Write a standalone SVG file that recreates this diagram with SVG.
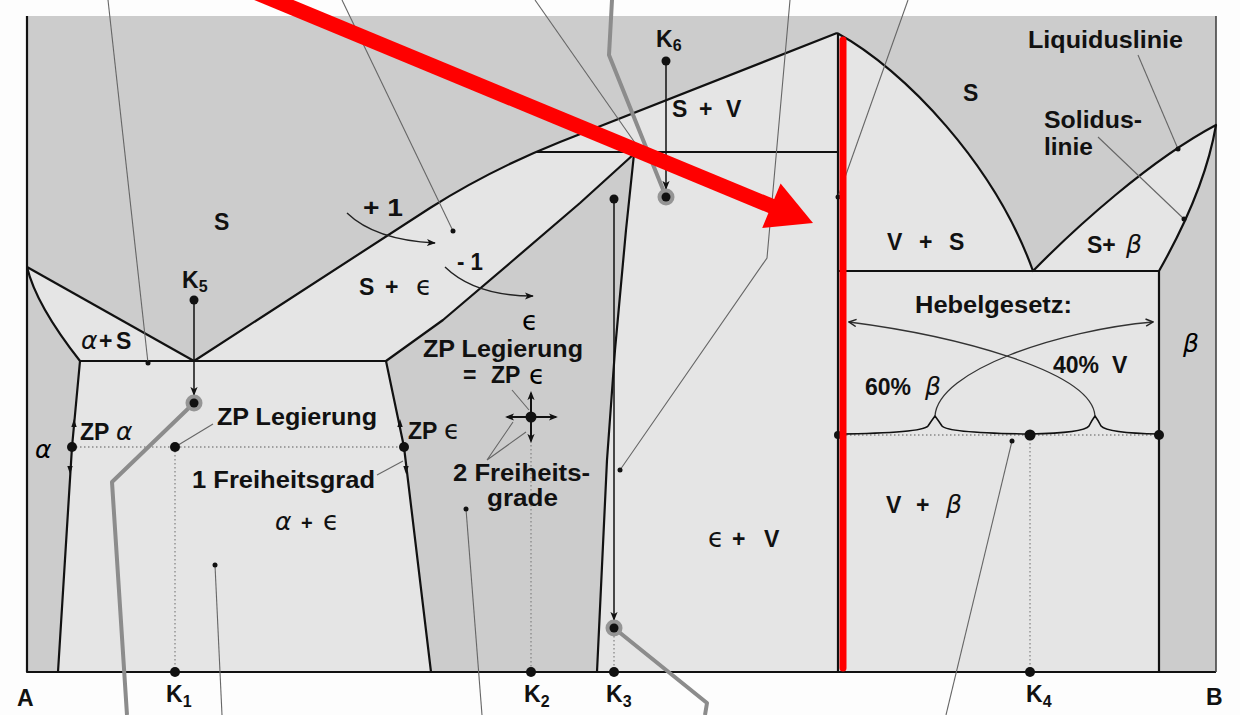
<svg xmlns="http://www.w3.org/2000/svg" width="1240" height="715" viewBox="0 0 1240 715">
<defs>
<marker id="ah" viewBox="0 0 10 10" refX="9" refY="5" markerWidth="9" markerHeight="9" markerUnits="userSpaceOnUse" orient="auto"><path d="M0,1 L10,5 L0,9 L2.5,5 Z" fill="#111"/></marker>
<marker id="ao" viewBox="0 0 10 10" refX="9" refY="5" markerWidth="9" markerHeight="9" markerUnits="userSpaceOnUse" orient="auto"><path d="M1,1 L9,5 L1,9" fill="none" stroke="#222" stroke-width="1.6"/></marker>
</defs>
<style>
.t{font-family:"Liberation Sans",Arial,sans-serif;font-weight:bold;font-size:23px;fill:#111}
.s{font-size:16px}
.g{font-family:"DejaVu Sans",sans-serif;font-style:italic;font-weight:normal;font-size:25px}
.e{font-family:"DejaVu Sans",sans-serif;font-style:normal;font-weight:normal;font-size:26px}
.b{fill:none;stroke:#111;stroke-width:2.2;stroke-linejoin:round}
.lead{fill:none;stroke:#666;stroke-width:1.1}
.dt{fill:none;stroke:#888;stroke-width:1.3;stroke-dasharray:1.5 2.5}
.thick{fill:none;stroke:#8c8c8c;stroke-width:4;stroke-linejoin:round}
.dark{fill:#cccccc}
.pt{fill:#111}
.ring{fill:#959595}
</style>
<rect x="0" y="0" width="1240" height="715" fill="#fdfdfd"/>

<g id="regions">
<rect x="27" y="16" width="1189" height="656" fill="#e5e5e5"/>
<path id="S" class="dark" d="M27,16 L1216,16 L1216,125 C1150,160 1075,228 1033,271 C995,165 905,70 837,33 L560,142 Q490,170 430,208 L194,361 L27,267 Z"/>
<path id="alpha" class="dark" d="M27,267 Q36,305 80,361 L72,447 L58,672 L27,672 Z"/>
<path id="eps" class="dark" d="M386,361 L443,320 L510,263 L580,203 L634,154 L626,230 L615,350 L607,460 L597,672 L431,672 L404,447 Z"/>
<path id="beta" class="dark" d="M1216,125 Q1205,190 1159,271 L1159,672 L1216,672 Z"/>
</g>

<g id="boundaries">
<path class="b" d="M27,16 L27,672 L1216,672" stroke-width="2.5"/>
<path d="M1216,16 L1216,672" stroke="#444" stroke-width="1.6"/>
<path class="b" d="M194,361 L430,208 Q490,170 560,142 L837,33"/>
<path class="b" d="M27,267 L194,361"/>
<path class="b" d="M27,267 Q36,305 80,361 L72,447 L58,672"/>
<path class="b" d="M80,361 L386,361"/>
<path class="b" d="M386,361 L404,447 L431,672"/>
<path class="b" d="M386,361 L443,320 L510,263 L580,203 L634,154 L626,230 L615,350 L607,460 L597,672"/>
<path class="b" d="M536,152 L838,152"/>
<path class="b" d="M838,33 L838,672"/>
<path class="b" d="M837,33 C905,70 995,165 1033,271 C1075,228 1150,160 1216,125 Q1205,190 1159,271 L1159,672"/>
<path class="b" d="M838,271 L1159,271"/>
</g>

<g id="dotted">
<path class="dt" d="M72,447 L404,447"/>
<path class="dt" d="M175,447 L175,672"/>
<path class="dt" d="M531,441 L531,672"/>
<path class="dt" d="M614,628 L614,672"/>
<path class="dt" d="M838,435 L1159,435"/>
<path class="dt" d="M1030,435 L1030,672"/>
</g>

<g id="leaders">
<path class="lead" d="M108,0 L148,363"/>
<path class="lead" d="M342,0 L453,231"/>
<path class="lead" d="M535,0 L640,150"/>
<path class="lead" d="M790,0 L767,258 L620,470"/>
<path class="lead" d="M908,0 L838,197"/>
<path class="lead" d="M1138,55 L1178,149"/>
<path class="lead" d="M1098,137 L1184,219"/>
<path class="lead" d="M377,475 L403,461"/>
<path class="lead" d="M175,447 L213,424"/>
<path class="lead" d="M512,390 L529,410"/>
<path class="lead" d="M487,460 L513,422 M487,460 L526,432"/>
<path class="lead" d="M215,565 L222,715"/>
<path class="lead" d="M466,509 L482,715"/>
<path class="lead" d="M1012,441 L946,715"/>
<circle class="pt" cx="148" cy="363" r="2.5"/>
<circle class="pt" cx="453" cy="231" r="2.5"/>
<circle class="pt" cx="620" cy="470" r="2.5"/>
<circle class="pt" cx="838" cy="197" r="2.5"/>
<circle class="pt" cx="1178" cy="149" r="2.5"/>
<circle class="pt" cx="1184" cy="219" r="2.5"/>
<circle class="pt" cx="215" cy="565" r="2.5"/>
<circle class="pt" cx="466" cy="509" r="2.5"/>
<circle class="pt" cx="1012" cy="441" r="2.5"/>
</g>

<g id="paths">
<path class="thick" d="M194,403 L112,482 L127,715"/>
<path class="thick" d="M666,197 L609,55 L612,0"/>
<path class="thick" d="M614,628 L707,703 L705,715"/>
<path d="M194,300 L194,395" stroke="#111" stroke-width="1.5" marker-end="url(#ah)"/>
<path d="M666,61 L666,189" stroke="#111" stroke-width="1.5" marker-end="url(#ah)"/>
<path d="M614,199 L614,620" stroke="#111" stroke-width="1.5" marker-end="url(#ah)"/>
<path d="M347,213 Q375,240 435,243" fill="none" stroke="#222" stroke-width="1.4" marker-end="url(#ah)"/>
<path d="M445,267 Q475,296 533,296" fill="none" stroke="#222" stroke-width="1.4" marker-end="url(#ah)"/>
<path d="M531,417 L507,417 M531,417 L556,417 M531,417 L531,393 M531,417 L531,441" stroke="#111" stroke-width="2"/>
<path d="M525,417 L506,417" stroke="#111" stroke-width="0.1" marker-end="url(#ah)"/>
<path d="M537,417 L557,417" stroke="#111" stroke-width="0.1" marker-end="url(#ah)"/>
<path d="M531,411 L531,392" stroke="#111" stroke-width="0.1" marker-end="url(#ah)"/>
<path d="M531,423 L531,442" stroke="#111" stroke-width="0.1" marker-end="url(#ah)"/>
<polygon class="pt" points="74,419 71.3,427 76.7,427"/>
<polygon class="pt" points="70,474 67.3,466 72.7,466"/>
<polygon class="pt" points="400,419 397.3,427 402.7,427"/>
<polygon class="pt" points="406,474 403.3,466 408.7,466"/>
<path d="M838,434 Q922,433 928,426 Q932,420 935,416 Q938,420 942,426 Q948,433 1030,434 Q1084,433 1089,426 Q1092,420 1095,416 Q1098,420 1101,426 Q1107,433 1159,434" fill="none" stroke="#111" stroke-width="1.6"/>
<path d="M1095,416 C1092,370 950,335 849,322" fill="none" stroke="#333" stroke-width="1.3" marker-end="url(#ao)"/>
<path d="M935,416 C938,370 1060,330 1153,322" fill="none" stroke="#333" stroke-width="1.3" marker-end="url(#ao)"/>
</g>

<g id="points">
<circle class="ring" cx="194" cy="403" r="8.5"/><circle class="pt" cx="194" cy="403" r="4.5"/>
<circle class="ring" cx="666" cy="197" r="8.5"/><circle class="pt" cx="666" cy="197" r="4.5"/>
<circle class="ring" cx="614" cy="628" r="8.5"/><circle class="pt" cx="614" cy="628" r="4.5"/>
<circle class="pt" cx="194" cy="300" r="4.5"/>
<circle class="pt" cx="666" cy="61" r="4.5"/>
<circle class="pt" cx="614" cy="199" r="4.5"/>
<circle class="pt" cx="72" cy="447" r="5"/>
<circle class="pt" cx="175" cy="447" r="5"/>
<circle class="pt" cx="404" cy="447" r="5"/>
<circle class="pt" cx="531" cy="417" r="5.5"/>
<circle class="pt" cx="838" cy="435" r="4"/>
<circle class="pt" cx="1030" cy="435" r="5.5"/>
<circle class="pt" cx="1159" cy="435" r="5"/>
<circle class="pt" cx="175" cy="672" r="5"/>
<circle class="pt" cx="531" cy="672" r="5"/>
<circle class="pt" cx="614" cy="672" r="5"/>
<circle class="pt" cx="1030" cy="672" r="5"/>
</g>

<g id="labels">
<text class="t" x="214" y="230" font-size="26">S</text>
<text class="t" x="363" y="216" font-size="22" textLength="40" lengthAdjust="spacingAndGlyphs">+ 1</text>
<text class="t" x="457" y="270" font-size="22" textLength="26" lengthAdjust="spacingAndGlyphs">- 1</text>
<text class="t" y="295" font-size="25"><tspan x="359">S</tspan><tspan x="385">+</tspan><tspan x="416" class="e">ϵ</tspan></text>
<text class="t" x="182" y="288" font-size="24">K<tspan class="s" dy="4">5</tspan></text>
<text class="t" y="349" font-size="24"><tspan x="81" class="g">α</tspan><tspan x="99">+</tspan><tspan x="116">S</tspan></text>
<text class="t" x="217" y="425" textLength="160" lengthAdjust="spacingAndGlyphs">ZP Legierung</text>
<text class="t" y="440"><tspan x="80">ZP</tspan><tspan x="116" class="g">α</tspan></text>
<text class="g" x="35" y="458">α</text>
<text class="t" y="439"><tspan x="408">ZP</tspan><tspan x="444" class="e">ϵ</tspan></text>
<text class="t" x="192" y="488" textLength="183" lengthAdjust="spacingAndGlyphs">1 Freiheitsgrad</text>
<text class="t" y="530"><tspan x="275" class="g">α</tspan><tspan x="301" font-size="20">+</tspan><tspan x="323" class="e">ϵ</tspan></text>
<text class="e" x="522" y="330" font-size="21">ϵ</text>
<text class="t" x="423" y="357" textLength="160" lengthAdjust="spacingAndGlyphs">ZP Legierung</text>
<text class="t" x="463" y="383">=</text>
<text class="t" x="491" y="383">ZP</text>
<text class="e" x="529" y="384" font-size="21">ϵ</text>
<text class="t" x="453" y="481" font-size="21" textLength="137" lengthAdjust="spacingAndGlyphs">2 Freiheits-</text>
<text class="t" x="487" y="506" font-size="21" textLength="71" lengthAdjust="spacingAndGlyphs">grade</text>
<text class="t" x="656" y="47" font-size="24">K<tspan class="s" dy="4">6</tspan></text>
<text class="t" y="117" font-size="25"><tspan x="672">S</tspan><tspan x="699">+</tspan><tspan x="726">V</tspan></text>
<text class="t" y="547" font-size="25"><tspan x="708" class="e">ϵ</tspan><tspan x="732">+</tspan><tspan x="764">V</tspan></text>
<text class="t" x="166" y="702" font-size="24">K<tspan class="s" dy="5">1</tspan></text>
<text class="t" x="524" y="702" font-size="24">K<tspan class="s" dy="5">2</tspan></text>
<text class="t" x="606" y="702" font-size="24">K<tspan class="s" dy="5">3</tspan></text>
<text class="t" x="1026" y="702" font-size="24">K<tspan class="s" dy="5">4</tspan></text>
<text class="t" x="17" y="706" font-size="25">A</text>
<text class="t" x="1206" y="705" font-size="25">B</text>
<text class="t" x="963" y="101" font-size="26">S</text>
<text class="t" x="1028" y="48" textLength="155" lengthAdjust="spacingAndGlyphs">Liquiduslinie</text>
<text class="t" x="1044" y="128" textLength="98" lengthAdjust="spacingAndGlyphs">Solidus-</text>
<text class="t" x="1044" y="155" textLength="49" lengthAdjust="spacingAndGlyphs">linie</text>
<text class="t" y="250" font-size="25"><tspan x="887">V</tspan><tspan x="919">+</tspan><tspan x="949">S</tspan></text>
<text class="t" y="253" font-size="25"><tspan x="1087">S+</tspan><tspan x="1126" class="g">β</tspan></text>
<text class="t" x="915" y="313" textLength="157" lengthAdjust="spacingAndGlyphs">Hebelgesetz:</text>
<text class="g" x="1183" y="352">β</text>
<text class="t" y="395"><tspan x="865">60%</tspan><tspan x="925" class="g">β</tspan></text>
<text class="t" y="373"><tspan x="1053">40%</tspan><tspan x="1112">V</tspan></text>
<text class="t" y="513" font-size="25"><tspan x="886">V</tspan><tspan x="916">+</tspan><tspan x="946" class="g">β</tspan></text>
</g>

<g id="highlight">
<path d="M843,40 L843,668" stroke="#ff0000" stroke-width="7" stroke-linecap="round"/>
<path d="M240,-14 L776,208" stroke="#ff0000" stroke-width="15"/>
<polygon points="813,223 780.6,183.6 762.2,228" fill="#ff0000"/>
</g>
</svg>
